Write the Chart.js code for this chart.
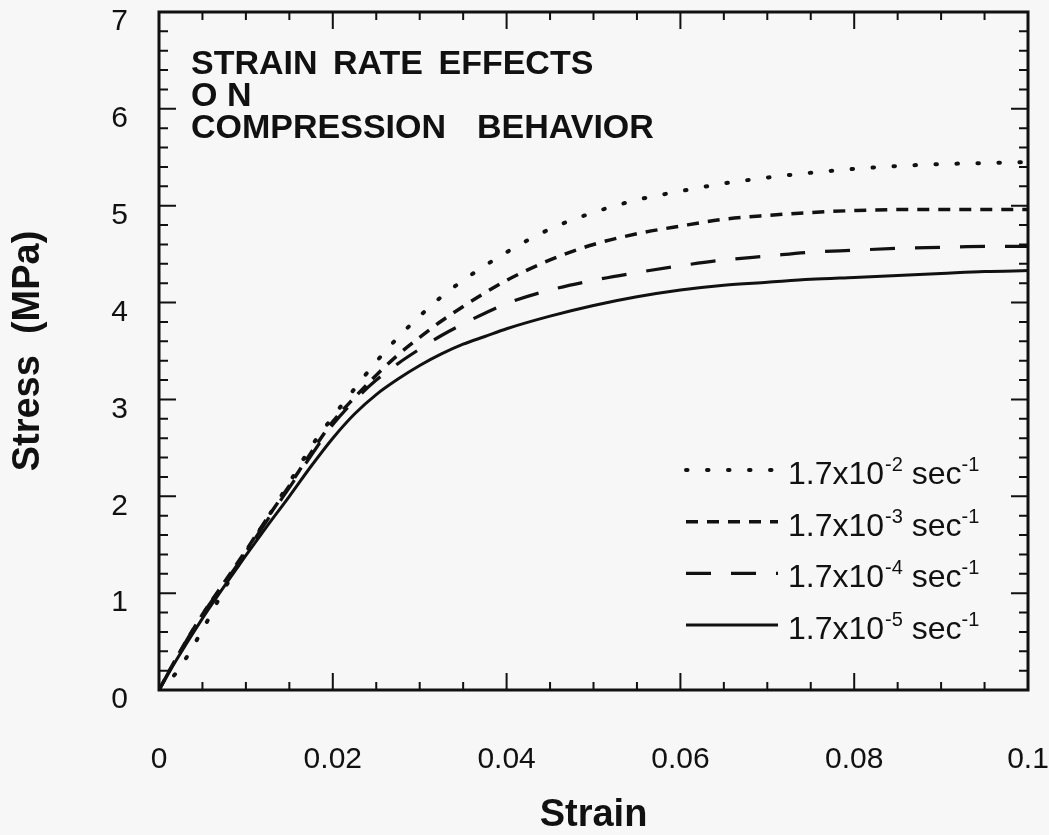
<!DOCTYPE html>
<html>
<head>
<meta charset="utf-8">
<title>Strain rate effects on compression behavior</title>
<script src="https://cdn.jsdelivr.net/npm/chart.js@4.4.1/dist/chart.umd.min.js"></script>
<style>
  html, body { margin: 0; padding: 0; background: #f7f7f7; }
  #wrap { width: 1049px; height: 835px; }
</style>
</head>
<body>
<div id="wrap"><canvas id="stressChart" width="1049" height="835"></canvas></div>
<script>
// --- data ---
const strain = [0, 0.002, 0.005, 0.0075, 0.01, 0.0125, 0.015, 0.0175, 0.02, 0.0225,
                0.025, 0.0275, 0.03, 0.0325, 0.035, 0.0375, 0.04, 0.045, 0.05, 0.055,
                0.06, 0.065, 0.07, 0.075, 0.08, 0.085, 0.09, 0.095, 0.1];

const stressRate2 = [0, 0.18, 0.62, 1.04, 1.42, 1.78, 2.14, 2.51, 2.82, 3.11,
                     3.39, 3.64, 3.86, 4.06, 4.23, 4.38, 4.52, 4.76, 4.93, 5.06,
                     5.15, 5.23, 5.29, 5.34, 5.38, 5.41, 5.43, 5.44, 5.45];
const stressRate3 = [0, 0.33, 0.78, 1.11, 1.44, 1.78, 2.11, 2.45, 2.77, 3.02,
                     3.25, 3.46, 3.64, 3.81, 3.96, 4.10, 4.23, 4.44, 4.60, 4.71,
                     4.79, 4.86, 4.90, 4.93, 4.95, 4.96, 4.96, 4.96, 4.96];
const stressRate4 = [0, 0.33, 0.78, 1.10, 1.42, 1.76, 2.09, 2.42, 2.74, 2.99,
                     3.20, 3.37, 3.52, 3.66, 3.78, 3.89, 3.99, 4.13, 4.23, 4.31,
                     4.38, 4.44, 4.48, 4.52, 4.54, 4.56, 4.57, 4.58, 4.58];
const stressRate5 = [0, 0.31, 0.74, 1.07, 1.39, 1.70, 2.00, 2.31, 2.60, 2.85,
                     3.05, 3.21, 3.35, 3.47, 3.57, 3.65, 3.73, 3.86, 3.97, 4.06,
                     4.13, 4.18, 4.21, 4.24, 4.26, 4.28, 4.30, 4.32, 4.33];

const rateBase = '1.7x10';
const rateExps = ['-2', '-3', '-4', '-5'];
const rateUnit = ' sec';
const rateUnitExp = '-1';

const xTicks = [0, 0.02, 0.04, 0.06, 0.08, 0.1];
const xTickLabels = ['0', '0.02', '0.04', '0.06', '0.08', '0.1'];
const yTicks = [0, 1, 2, 3, 4, 5, 6, 7];
const yTickLabels = ['0', '1', '2', '3', '4', '5', '6', '7'];
const xMinorStep = 0.005;
const yMinorStep = 0.2;

const noteLines = ['STRAIN RATE EFFECTS', 'O N', 'COMPRESSION  BEHAVIOR'];

const FONT = '"Liberation Sans", Arial, Helvetica, sans-serif';
const INK = '#111';

Chart.defaults.font.family = FONT;
Chart.defaults.color = INK;

const toPoints = ys => strain.map((x, i) => ({ x, y: ys[i] }));

// line styles: dotted, short dash, long dash, solid
const styles = [
    { dash: [1.5, 19.5], width: 4, cap: 'round' },
    { dash: [12, 9], width: 3.5, cap: 'butt' },
    { dash: [25, 20], width: 3.2, cap: 'butt' },
    { dash: [], width: 3, cap: 'butt' }
];
const series = [stressRate2, stressRate3, stressRate4, stressRate5];

const datasets = series.map((ys, i) => ({
    label: rateBase + '^' + rateExps[i] + rateUnit + '^' + rateUnitExp,
    data: toPoints(ys),
    showLine: true,
    borderColor: INK,
    borderWidth: styles[i].width,
    borderDash: styles[i].dash,
    borderCapStyle: styles[i].cap,
    pointRadius: 0,
    cubicInterpolationMode: 'monotone',
    fill: false
}));

// --- frame with inward ticks on all four sides ---
const frameTicks = {
    id: 'frameTicks',
    afterDatasetsDraw(chart) {
        const { ctx, chartArea: a, scales: { x, y } } = chart;
        ctx.save();
        ctx.strokeStyle = INK;
        ctx.lineWidth = 2;
        ctx.beginPath();
        const nx = Math.round((x.max - x.min) / xMinorStep);
        for (let i = 0; i <= nx; i++) {
            const v = x.min + i * xMinorStep;
            const px = x.getPixelForValue(v);
            const len = xTicks.some(t => Math.abs(t - v) < 1e-9) ? 17 : 8;
            ctx.moveTo(px, a.bottom); ctx.lineTo(px, a.bottom - len);
            ctx.moveTo(px, a.top); ctx.lineTo(px, a.top + len);
        }
        const ny = Math.round((y.max - y.min) / yMinorStep);
        for (let i = 0; i <= ny; i++) {
            const v = y.min + i * yMinorStep;
            const py = y.getPixelForValue(v);
            const len = yTicks.some(t => Math.abs(t - v) < 1e-9) ? 17 : 9;
            ctx.moveTo(a.left, py); ctx.lineTo(a.left + len, py);
            ctx.moveTo(a.right, py); ctx.lineTo(a.right - len, py);
        }
        ctx.stroke();
        ctx.lineWidth = 3;
        ctx.strokeRect(a.left, a.top, a.right - a.left, a.bottom - a.top);
        ctx.restore();
    }
};

// --- note in the upper left and legend with superscripts ---
const notesAndLegend = {
    id: 'notesAndLegend',
    afterDraw(chart) {
        const { ctx, chartArea: a } = chart;
        ctx.save();
        ctx.fillStyle = INK;
        ctx.textBaseline = 'alphabetic';

        // note
        ctx.font = 'bold 34px ' + FONT;
        noteLines.forEach((t, i) => {
            ctx.wordSpacing = i === 1 ? '0px' : '6px';
            ctx.fillText(t, a.left + 32, a.top + 61.5 + i * 32.2);
        });
        ctx.wordSpacing = '0px';

        // legend
        chart.data.datasets.forEach((ds, i) => {
            const base = a.bottom - 206 + i * 51.7;
            const ly = base - 14;
            ctx.strokeStyle = INK;
            ctx.lineWidth = ds.borderWidth;
            ctx.lineCap = ds.borderCapStyle;
            ctx.setLineDash(ds.borderDash);
            ctx.beginPath();
            ctx.moveTo(a.right - 342, ly);
            ctx.lineTo(a.right - 250, ly);
            ctx.stroke();
            ctx.setLineDash([]);

            let tx = a.right - 240;
            ctx.font = '32px ' + FONT;
            ctx.fillText(rateBase, tx, base);
            tx += ctx.measureText(rateBase).width + 1;
            ctx.font = '20px ' + FONT;
            ctx.fillText(rateExps[i], tx, base - 13);
            tx += ctx.measureText(rateExps[i]).width;
            ctx.font = '32px ' + FONT;
            ctx.fillText(rateUnit, tx, base);
            tx += ctx.measureText(rateUnit).width;
            ctx.font = '20px ' + FONT;
            ctx.fillText(rateUnitExp, tx, base - 13);
        });
        ctx.restore();
    }
};

new Chart(document.getElementById('stressChart'), {
    type: 'scatter',
    data: { datasets },
    options: {
        responsive: false,
        animation: false,
        devicePixelRatio: 1,
        layout: { padding: { top: 12, right: 21, left: 0, bottom: 0 } },
        plugins: {
            legend: { display: false },
            tooltip: { enabled: false }
        },
        scales: {
            x: {
                type: 'linear',
                min: 0,
                max: 0.1,
                grid: { display: false, drawTicks: false },
                border: { display: false },
                afterBuildTicks: s => { s.ticks = xTicks.map(v => ({ value: v })); },
                afterFit: s => {
                    s.height = 145;
                    s.paddingLeft = 0;
                    s.paddingRight = 0;
                },
                ticks: {
                    padding: 52,
                    maxRotation: 0,
                    font: { size: 30 },
                    color: INK,
                    callback: (v, i) => xTickLabels[i]
                },
                title: {
                    display: true,
                    text: 'Strain',
                    font: { size: 38, weight: 'bold', lineHeight: 1 },
                    padding: { top: 0, bottom: 0 },
                    color: INK
                }
            },
            y: {
                type: 'linear',
                min: 0,
                max: 7,
                grid: { display: false, drawTicks: false },
                border: { display: false },
                afterBuildTicks: s => { s.ticks = yTicks.map(v => ({ value: v })); },
                afterFit: s => {
                    s.width = 159;
                    s.paddingTop = 0;
                    s.paddingBottom = 0;
                },
                ticks: {
                    padding: 31,
                    labelOffset: 10,
                    font: { size: 30 },
                    color: INK,
                    callback: (v, i) => yTickLabels[i]
                },
                title: {
                    display: true,
                    text: 'Stress  (MPa)',
                    font: { size: 38, weight: 'bold', lineHeight: 1 },
                    padding: { top: 10, bottom: 0 },
                    color: INK
                }
            }
        }
    },
    plugins: [frameTicks, notesAndLegend]
});
</script>
</body>
</html>
